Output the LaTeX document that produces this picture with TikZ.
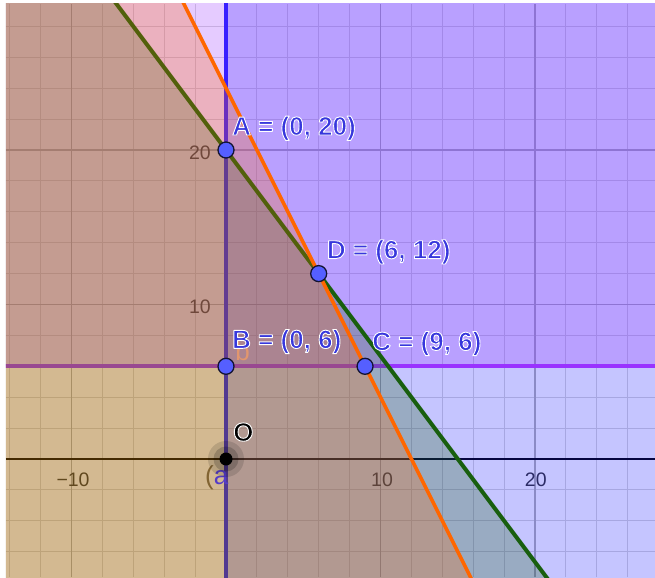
\documentclass[tikz,border=0pt]{standalone}
\usepackage{fontspec}
\setmainfont{Liberation Sans}
\usetikzlibrary{calc}
\definecolor{lineA}{RGB}{25,25,255}
\definecolor{lineB}{RGB}{153,51,255}
\definecolor{lineC}{RGB}{25,95,15}
\definecolor{lineD}{RGB}{255,102,0}
\definecolor{ptfill}{RGB}{85,95,255}
\definecolor{ptedge}{RGB}{20,20,50}
\definecolor{lbl}{RGB}{55,55,220}
\definecolor{minorgrid}{RGB}{215,215,215}
\definecolor{majorgrid}{RGB}{178,178,178}
\definecolor{parcol}{RGB}{130,100,50}
\definecolor{acol}{RGB}{85,60,200}
\definecolor{bcol}{RGB}{225,150,110}
% white outline round a label: fill then stroke, stroke in white
\newcommand\halo[1]{\special{pdf:literal direct 2 Tr 0.9 w 1 1 1 RG 1 j}#1\special{pdf:literal direct 0 Tr}}
\tikzset{
  pt/.style={circle, fill=ptfill, draw=ptedge, line width=1.3bp, minimum size=16bp, inner sep=0pt},
  ptlabel/.style={anchor=base west, inner sep=0pt, text=lbl, font=\fontsize{26bp}{30bp}\selectfont\bfseries},
  axnum/.style={inner sep=0pt, text=black!80, font=\fontsize{19.5bp}{22bp}\selectfont},
  minorline/.style={draw=minorgrid, line width=1bp},
  majorline/.style={draw=majorgrid, line width=1.3bp},
  shade/.style={fill opacity=0.25},
}
\begin{document}
\begin{tikzpicture}[x=15.45bp, y=15.45bp]
\def\xmin{-14.24}\def\xmax{27.77}\def\ymin{-7.64}\def\ymax{29.45}
\useasboundingbox (-14.628,-7.702) rectangle (27.767,29.709);
\fill[white] (-14.628,-7.702) rectangle (27.767,29.709);
\coordinate (O) at (0,0);
\coordinate (A) at (0,20);
\coordinate (B) at (0,6);
\coordinate (C) at (9,6);
\coordinate (D) at (6,12);
\begin{scope}
\clip (\xmin,\ymin) rectangle (\xmax,\ymax);
% grid
\foreach \x in {-14,-12,...,26} \draw[minorline] (\x,\ymin) -- (\x,\ymax);
\foreach \y in {-6,-4,...,28} \draw[minorline] (\xmin,\y) -- (\xmax,\y);
\foreach \x in {-10,10,20} \draw[majorline] (\x,\ymin) -- (\x,\ymax);
\foreach \y in {10,20} \draw[majorline] (\xmin,\y) -- (\xmax,\y);
% axes
\draw[black, line width=1.4bp] (\xmin,0) -- (\xmax,0);
\draw[black, line width=1.4bp] (0,\ymin) -- (0,\ymax);
% axis numbers
\node[axnum, anchor=base] (xm10) at (-9.9,-1.81) {−10};
\node[axnum, anchor=base] (x10) at (10.1,-1.81) {10};
\node[axnum, anchor=base] (x20) at (20.05,-1.81) {20};
\node[axnum, anchor=base east] (y10) at (-0.97,9.42) {10};
\node[axnum, anchor=base east] (y20) at (-0.97,19.4) {20};
% a : x >= 0
\fill[lineA, shade] (0,-20) rectangle (40,40);
\draw[lineA, line width=4bp] ($(O)!-1!(A)$) -- ($(O)!2!(A)$);
% b : y >= 6
\fill[lineB, shade] (-20,6) rectangle (40,40);
\draw[lineB, line width=4bp] ($(B)!-3!(C)$) -- ($(B)!4!(C)$);
% c : 4x + 3y <= 60
\fill[lineC, shade] ($(A)!-3!(D)$) -- ($(A)!4!(D)$) -- (-20,-20) -- cycle;
\draw[lineC, line width=4bp] ($(A)!-3!(D)$) -- ($(A)!4!(D)$);
% d : 2x + y <= 24
\fill[lineD, shade] ($(D)!-4!(C)$) -- ($(D)!5!(C)$) -- (-20,-20) -- (-20,40) -- cycle;
\draw[lineD, line width=3.6bp] ($(D)!-4!(C)$) -- ($(D)!5!(C)$);
\end{scope}
% object labels of lines
\node[anchor=base west, inner sep=0pt, font=\fontsize{26bp}{30bp}\selectfont] (la) at (-1.36,-1.68) {\textcolor{parcol}{(}\textcolor{acol}{a}};
\node[anchor=base west, inner sep=0pt, text=bcol, font=\fontsize{26bp}{30bp}\selectfont] (lb) at (0.6,6.4) {b};
% origin
\fill[black, opacity=0.13] (O) circle (18bp);
\fill[black, opacity=0.18] (O) circle (12.5bp);
\node[circle, fill=black, minimum size=13bp, inner sep=0pt] (pO) at (O) {};
\node[ptlabel, text=black] (lO) at ([xshift=7bp,yshift=18bp]O) {\halo{O}};
% points
\node[pt] (pA) at (A) {};
\node[pt] (pB) at (B) {};
\node[pt] (pC) at (C) {};
\node[pt] (pD) at (D) {};
\node[ptlabel] (lA) at ([xshift=6bp,yshift=15bp]A) {\halo{A = (0, 20)}};
\node[ptlabel] (lB) at ([xshift=6bp,yshift=18bp]B) {\halo{B = (0, 6)}};
\node[ptlabel] (lC) at ([xshift=7bp,yshift=16bp]C) {\halo{C = (9, 6)}};
\node[ptlabel] (lD) at ([xshift=8bp,yshift=15bp]D) {\halo{D = (6, 12)}};
\end{tikzpicture}
\end{document}
